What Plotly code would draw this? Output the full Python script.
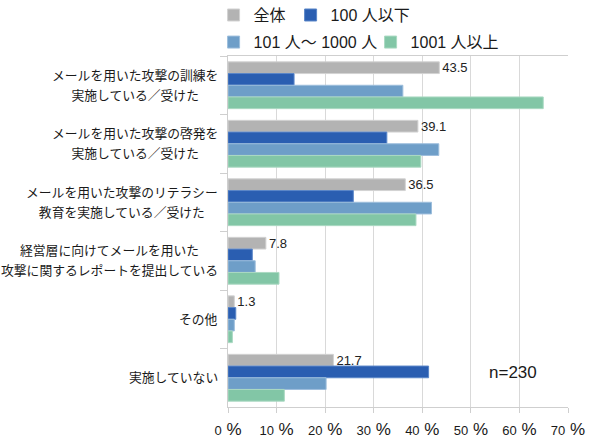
import plotly.graph_objects as go

# 項目（上から順）
categories = [
    "メールを用いた攻撃の訓練を<br>実施している／受けた",
    "メールを用いた攻撃の啓発を<br>実施している／受けた",
    "メールを用いた攻撃のリテラシー<br>教育を実施している／受けた",
    "経営層に向けてメールを用いた<br>攻撃に関するレポートを提出している",
    "その他",
    "実施していない",
]

series_names = ["全体", "100 人以下", "101 人〜 1000 人", "1001 人以上"]

all_vals = [43.5, 39.1, 36.5, 7.8, 1.3, 21.7]
small_vals = [13.6, 32.7, 25.8, 5.0, 1.6, 41.3]
mid_vals = [36.0, 43.4, 41.9, 5.6, 1.3, 20.2]
large_vals = [64.9, 39.7, 38.7, 10.5, 0.9, 11.6]

x_ticks = [0, 10, 20, 30, 40, 50, 60, 70]

colors = ["#b3b3b3", "#2a5eb1", "#6e9ec8", "#82c6a6"]
line_colors = ["#d2d2d2", "#5a86c8", "#9dbedc", "#aad9c2"]

FONT = "Liberation Sans, Noto Sans CJK JP, sans-serif"

fig = go.Figure()
values = [all_vals, small_vals, mid_vals, large_vals]
legends = ["legend", "legend", "legend2", "legend2"]
for i, (name, vals) in enumerate(zip(series_names, values)):
    fig.add_trace(go.Bar(
        y=categories,
        x=vals,
        name=name,
        orientation="h",
        marker=dict(color=colors[i], line=dict(color=line_colors[i], width=1)),
        text=[f"{v:.1f}" for v in vals] if i == 0 else None,
        textposition="outside" if i == 0 else "none",
        textfont=dict(size=13, color="#222222", family=FONT),
        constraintext="none",
        cliponaxis=False,
        legend=legends[i],
        hoverinfo="x+name",
    ))

# 項目ラベル（中央揃え、行間広め）
for cat in categories:
    txt = "<br>".join(f"<span style='font-size:12.8px'>{s}</span>" for s in cat.split("<br>"))
    fig.add_annotation(
        x=-0.024, xref="paper", y=cat, yref="y",
        text=txt, showarrow=False, xanchor="right", align="center",
        font=dict(size=15.5, color="#1a1a1a", family=FONT),
    )

fig.add_annotation(
    x=0.838, y=0.097, xref="paper", yref="paper",
    xanchor="center", yanchor="middle",
    text="n=230", showarrow=False,
    font=dict(size=17, color="#1a1a1a", family=FONT),
)

legend_common = dict(
    orientation="h", xref="container", yref="container",
    xanchor="left", yanchor="middle",
    font=dict(size=16, color="#1a1a1a", family=FONT),
    bgcolor="rgba(0,0,0,0)", itemwidth=30,
)

fig.update_layout(
    width=590, height=444,
    margin=dict(l=228, r=22, t=56, b=37, autoexpand=False),
    paper_bgcolor="white", plot_bgcolor="white",
    barmode="group", bargap=0.2, bargroupgap=0,
    font=dict(family=FONT, color="#1a1a1a"),
    legend=dict(x=0.362, y=0.966, **legend_common),
    legend2=dict(x=0.362, y=0.905, entrywidth=112, **legend_common),
    xaxis=dict(
        range=[0, 70],
        tickvals=x_ticks,
        ticktext=[f"{v}<span style='font-size:17px'> %</span>" for v in x_ticks],
        tickfont=dict(size=13, color="#1a1a1a", family=FONT),
        showgrid=True, gridcolor="#d9d9d9", gridwidth=1,
        showline=True, linecolor="#cfcfcf", mirror=True,
        ticks="outside", ticklen=5, tickcolor="#cfcfcf",
        ticklabelstandoff=6,
        zeroline=False, fixedrange=True,
    ),
    yaxis=dict(
        autorange="reversed",
        showticklabels=False,
        tickson="boundaries",
        ticks="outside", ticklen=7, tickcolor="#cfcfcf",
        showline=True, linecolor="#cfcfcf",
        showgrid=False, fixedrange=True,
    ),
)

# ページ余白を消して 590x444 にぴったり合わせる
fig.write_html("out.html", config={"displayModeBar": False},
               post_script="document.body.style.margin='0';")
